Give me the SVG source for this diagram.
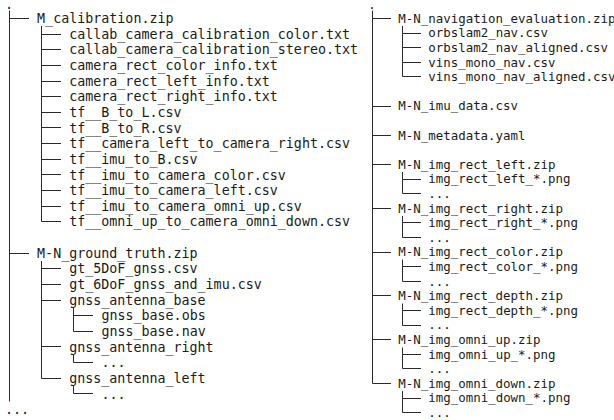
<svg xmlns="http://www.w3.org/2000/svg" width="614" height="420" viewBox="0 0 614 420">
<style>
text{font-family:"DejaVu Sans Mono","Liberation Mono",monospace;fill:#1a1a1a}
.l{font-size:13.33px}
.r{font-size:12.45px}
.c{fill:none;stroke:#2a2a2a;stroke-width:1}
</style>
<rect width="614" height="420" fill="#ffffff"/>
<g id="connectors">
<path class="c" d="M9.5 10.5V401.5 M9.5 18.5H29 M9.5 253.5H29
M41.5 26V221.5 M41.5 34.5H61 M41.5 49.5H61 M41.5 65.5H61 M41.5 81.5H61 M41.5 96.5H61 M41.5 112.5H61 M41.5 127.5H61 M41.5 143.5H61 M41.5 159.5H61 M41.5 174.5H61 M41.5 190.5H61 M41.5 206.5H61 M41.5 221.5H61
M41.5 261V378.5 M41.5 268.5H61 M41.5 284.5H61 M41.5 300.5H61 M41.5 346.5H61 M41.5 378.5H61
M73.5 308V331.5 M73.5 315.5H93 M73.5 331.5H93
M73.5 355V362.5 M73.5 362.5H93
M73.5 386V393.5 M73.5 393.5H93"/>
<path class="c" d="M372.5 10.5V383.5 M372.5 18.5H391 M372.5 106.5H391 M372.5 135.5H391 M372.5 164.5H391 M372.5 208.5H391 M372.5 252.5H391 M372.5 295.5H391 M372.5 339.5H391 M372.5 383.5H391
M402.5 26V76.5 M402.5 33.5H421 M402.5 47.5H421 M402.5 62.5H421 M402.5 76.5H421
M402.5 172V193.5 M402.5 179.5H421 M402.5 193.5H421
M402.5 216V237.5 M402.5 222.5H421 M402.5 237.5H421
M402.5 259.5V281.5 M402.5 266.5H421 M402.5 281.5H421
M402.5 303.5V325.5 M402.5 310.5H421 M402.5 325.5H421
M402.5 347.5V368.5 M402.5 354.5H421 M402.5 368.5H421
M402.5 391V412.5 M402.5 398.5H421 M402.5 412.5H421"/>
</g>
<g id="root-left"><text class="l" x="5" y="9">.</text></g>
<g id="m-calibration"><text class="l" x="37.1" y="23.1">M_calibration.zip</text>
<text class="l" x="69.2" y="38.7">callab_camera_calibration_color.txt</text>
<text class="l" x="69.2" y="54.4">callab_camera_calibration_stereo.txt</text>
<text class="l" x="69.2" y="70">camera_rect_color_info.txt</text>
<text class="l" x="69.2" y="85.7">camera_rect_left_info.txt</text>
<text class="l" x="69.2" y="101.3">camera_rect_right_info.txt</text>
<text class="l" x="69.2" y="116.9">tf__B_to_L.csv</text>
<text class="l" x="69.2" y="132.6">tf__B_to_R.csv</text>
<text class="l" x="69.2" y="148.2">tf__camera_left_to_camera_right.csv</text>
<text class="l" x="69.2" y="163.9">tf__imu_to_B.csv</text>
<text class="l" x="69.2" y="179.5">tf__imu_to_camera_color.csv</text>
<text class="l" x="69.2" y="195.1">tf__imu_to_camera_left.csv</text>
<text class="l" x="69.2" y="210.8">tf__imu_to_camera_omni_up.csv</text>
<text class="l" x="69.2" y="226.4">tf__omni_up_to_camera_omni_down.csv</text></g>
<g id="ground-truth"><text class="l" x="37.1" y="257.7">M-N_ground_truth.zip</text>
<text class="l" x="69.2" y="273.3">gt_5DoF_gnss.csv</text>
<text class="l" x="69.2" y="289">gt_6DoF_gnss_and_imu.csv</text>
<text class="l" x="69.2" y="304.6">gnss_antenna_base</text>
<text class="l" x="101.4" y="320.3">gnss_base.obs</text>
<text class="l" x="101.4" y="335.9">gnss_base.nav</text>
<text class="l" x="69.2" y="351.5">gnss_antenna_right</text>
<text class="l" x="101.4" y="367.2">...</text>
<text class="l" x="69.2" y="382.8">gnss_antenna_left</text>
<text class="l" x="101.4" y="398.5">...</text></g>
<g id="more-left"><text class="l" x="5" y="414.1">...</text></g>
<g id="root-right"><text class="r" x="368.25" y="9">.</text></g>
<g id="navigation-evaluation"><text class="r" x="398.25" y="22.8">M-N_navigation_evaluation.zip</text>
<text class="r" x="428.25" y="37.4">orbslam2_nav.csv</text>
<text class="r" x="428.25" y="52">orbslam2_nav_aligned.csv</text>
<text class="r" x="428.25" y="66.6">vins_mono_nav.csv</text>
<text class="r" x="428.25" y="81.2">vins_mono_nav_aligned.csv</text></g>
<g id="imu-data"><text class="r" x="398.25" y="110.4">M-N_imu_data.csv</text></g>
<g id="metadata"><text class="r" x="398.25" y="139.6">M-N_metadata.yaml</text></g>
<g id="img-rect-left"><text class="r" x="398.25" y="168.8">M-N_img_rect_left.zip</text>
<text class="r" x="428.25" y="183.4">img_rect_left_*.png</text>
<text class="r" x="428.25" y="198">...</text></g>
<g id="img-rect-right"><text class="r" x="398.25" y="212.6">M-N_img_rect_right.zip</text>
<text class="r" x="428.25" y="227.2">img_rect_right_*.png</text>
<text class="r" x="428.25" y="241.8">...</text></g>
<g id="img-rect-color"><text class="r" x="398.25" y="256.4">M-N_img_rect_color.zip</text>
<text class="r" x="428.25" y="271">img_rect_color_*.png</text>
<text class="r" x="428.25" y="285.6">...</text></g>
<g id="img-rect-depth"><text class="r" x="398.25" y="300.2">M-N_img_rect_depth.zip</text>
<text class="r" x="428.25" y="314.8">img_rect_depth_*.png</text>
<text class="r" x="428.25" y="329.4">...</text></g>
<g id="img-omni-up"><text class="r" x="398.25" y="344">M-N_img_omni_up.zip</text>
<text class="r" x="428.25" y="358.6">img_omni_up_*.png</text>
<text class="r" x="428.25" y="373.2">...</text></g>
<g id="img-omni-down"><text class="r" x="398.25" y="387.8">M-N_img_omni_down.zip</text>
<text class="r" x="428.25" y="402.4">img_omni_down_*.png</text>
<text class="r" x="428.25" y="417">...</text></g>
</svg>
